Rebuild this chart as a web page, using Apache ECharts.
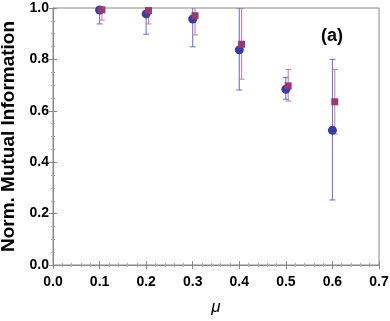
<!DOCTYPE html>
<html><head><meta charset="utf-8">
<script src="https://cdn.jsdelivr.net/npm/echarts@6/dist/echarts.min.js"></script>
<style>html,body{margin:0;padding:0;background:#fff}#c{width:390px;height:321px}</style>
</head><body><div id="c"></div>
<script>
// Data
const xBlue = [0.1, 0.2, 0.3, 0.4, 0.5, 0.6];
const yBlue = [0.992, 0.977, 0.957, 0.837, 0.684, 0.524];
const loBlue = [0.938, 0.898, 0.849, 0.681, 0.645, 0.253];
const hiBlue = [1.04, 1.04, 1.04, 1.0, 0.730, 0.800];
const xRed = [0.105, 0.205, 0.305, 0.405, 0.505, 0.605];
const yRed = [0.993, 0.990, 0.970, 0.859, 0.697, 0.635];
const loRed = [0.953, 0.938, 0.895, 0.723, 0.638, 0.51];
const hiRed = [1.04, 1.04, 1.04, 1.0, 0.761, 0.761];
const xTicks = ['0.0','0.1','0.2','0.3','0.4','0.5','0.6','0.7'];

const chart = echarts.init(document.getElementById('c'));
const font = 'Liberation Sans, Arial, sans-serif';
function errSeries(xs, lo, hi, color){
  return {
    type:'custom', clip:true, z:1,
    data: xs.map((x,i)=>[x, lo[i], hi[i]]),
    renderItem:(p, api)=>{
      const a = api.coord([api.value(0), api.value(1)]);
      const b = api.coord([api.value(0), api.value(2)]);
      const w = 3;
      const st = {stroke:color, lineWidth:1};
      return {type:'group', children:[
        {type:'line', shape:{x1:a[0],y1:a[1],x2:b[0],y2:b[1]}, style:st},
        {type:'line', shape:{x1:a[0]-w,y1:a[1],x2:a[0]+w,y2:a[1]}, style:st},
        {type:'line', shape:{x1:b[0]-w,y1:b[1],x2:b[0]+w,y2:b[1]}, style:st}
      ]};
    }
  };
}
const axisLine = {show:true, lineStyle:{color:'#888', width:1}};
chart.setOption({
  animation:false,
  grid:{left:53, right:11, top:8, bottom:56, containLabel:false, outerBoundsMode:'none',
        show:true, borderColor:'#888', borderWidth:1},
  xAxis:[{
    type:'value', min:0, max:0.7, interval:0.1, position:'bottom',
    name:'μ', nameLocation:'middle', nameGap:34,
    nameTextStyle:{fontFamily:font, fontStyle:'italic', fontSize:17, color:'#000'},
    axisLine:axisLine,
    axisTick:{show:true, inside:true, length:4, lineStyle:{color:'#888'}},
    minorTick:{show:true, splitNumber:5, length:2, lineStyle:{color:'#aaa'}},
    splitLine:{show:false},
    axisLabel:{fontFamily:font, fontWeight:'bold', fontSize:14, color:'#000', margin:10,
      formatter:(v)=>xTicks[Math.round(v*10)]}
  },{
    type:'value', min:0, max:0.7, interval:0.1, position:'top',
    axisLine:axisLine,
    axisTick:{show:true, inside:true, length:4, lineStyle:{color:'#888'}},
    minorTick:{show:true, splitNumber:5, length:2, lineStyle:{color:'#aaa'}},
    splitLine:{show:false}, axisLabel:{show:false}
  }],
  yAxis:[{
    type:'value', min:0, max:1, interval:0.2, position:'left',
    name:'Norm. Mutual Information', nameLocation:'middle', nameGap:31,
    nameTextStyle:{fontFamily:font, fontWeight:'bold', fontSize:19, color:'#000'},
    axisLine:axisLine,
    axisTick:{show:true, inside:true, length:4, lineStyle:{color:'#888'}},
    minorTick:{show:true, splitNumber:4, length:2, lineStyle:{color:'#aaa'}},
    splitLine:{show:false},
    axisLabel:{fontFamily:font, fontWeight:'bold', fontSize:14, color:'#000', margin:4,
      formatter:(v)=>v.toFixed(1)}
  },{
    type:'value', min:0, max:1, interval:0.2, position:'right',
    axisLine:axisLine,
    axisTick:{show:true, inside:true, length:4, lineStyle:{color:'#888'}},
    minorTick:{show:true, splitNumber:4, length:2, lineStyle:{color:'#aaa'}},
    splitLine:{show:false}, axisLabel:{show:false}
  }],
  graphic:[{type:'text', left:321, top:27, style:{text:'(a)', font:'bold 18px '+font, fill:'#000'}}],
  series:[
    errSeries(xBlue, loBlue, hiBlue, '#6a6ac8'),
    errSeries(xRed, loRed, hiRed, '#c874a8'),
    {type:'scatter', symbol:'circle', symbolSize:9, z:3,
     itemStyle:{color:'#3c3c9c', opacity:1},
     data:xBlue.map((x,i)=>[x,yBlue[i]])},
    {type:'scatter', symbol:'rect', symbolSize:7, z:4,
     itemStyle:{color:'#973a72', opacity:1},
     data:xRed.map((x,i)=>[x,yRed[i]])}
  ]
});
</script></body></html>
